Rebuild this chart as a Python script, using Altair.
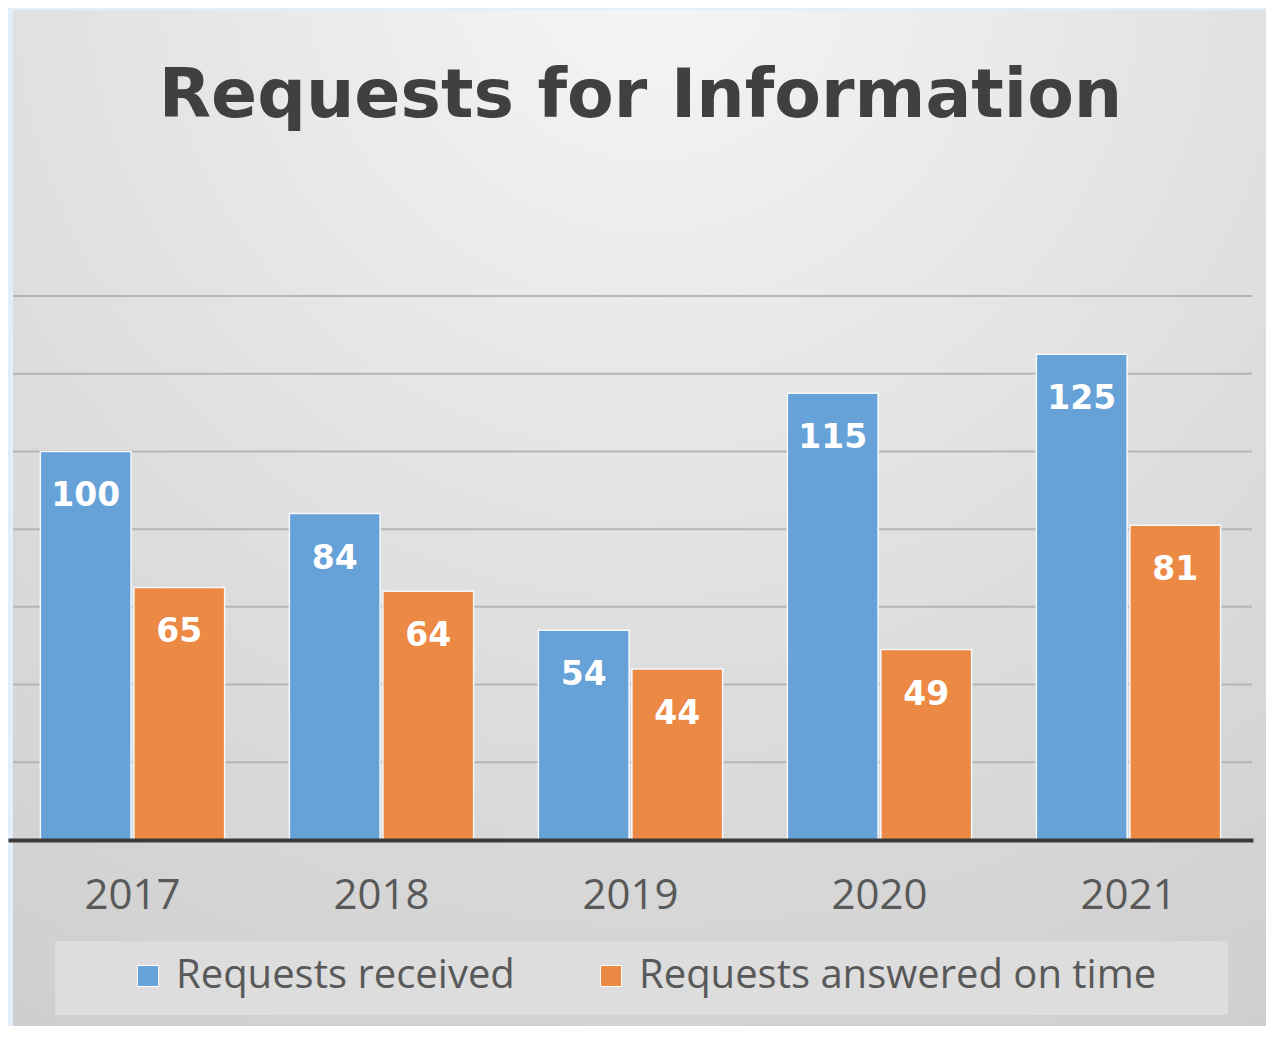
import altair as alt
import pandas as pd

years = ["2017", "2018", "2019", "2020", "2021"]
received = [100, 84, 54, 115, 125]
answered = [65, 64, 44, 49, 81]
series = ["Requests received", "Requests answered on time"]
colors = ["#66a1d8", "#ec8945"]
grid_values = [20, 40, 60, 80, 100, 120, 140]

rows = []
for i, yv in enumerate(years):
    rows.append({"year": yv, "series": series[0], "value": received[i]})
    rows.append({"year": yv, "series": series[1], "value": answered[i]})
df = pd.DataFrame(rows)
grid_df = pd.DataFrame({"g": grid_values})
one = pd.DataFrame({"a": [0]})

W, H = 1245, 544
yscale = alt.Scale(domain=[0, 140], nice=False)

x_enc = alt.X(
    "year:N", sort=years,
    scale=alt.Scale(paddingInner=0.26, paddingOuter=0.13),
    axis=alt.Axis(labelAngle=0, title=None, ticks=False, tickSize=0,
                  labelFontSize=42, labelFont="Open Sans", labelColor="#595959",
                  labelPadding=55, labelBaseline="middle",
                  domainColor="#3a3a3a", domainWidth=4, grid=False, zindex=1),
)
xo_enc = alt.XOffset("series:N", sort=series,
                     scale=alt.Scale(paddingInner=0.03, paddingOuter=0))

panel = alt.Chart(one).mark_rect(
    color=alt.RadialGradient(
        gradient="radial", x1=0.5, y1=0.05, r1=0, x2=0.5, y2=0.05, r2=1.0,
        stops=[alt.GradientStop(offset=0, color="#f6f6f6"),
               alt.GradientStop(offset=0.55, color="#dedede"),
               alt.GradientStop(offset=1, color="#cdcdcd")])
).encode(x=alt.value(5), x2=alt.value(1280), y=alt.value(-286), y2=alt.value(760))

legend_box = alt.Chart(one).mark_rect(color="#dddddd").encode(
    x=alt.value(47), x2=alt.value(1220), y=alt.value(645), y2=alt.value(719))

grid = alt.Chart(grid_df).mark_rule(color="#b5b5b5", strokeWidth=2).encode(
    y=alt.Y("g:Q", scale=yscale, axis=None), x=alt.value(5), x2=alt.value(1244))

bars = alt.Chart(df).mark_bar(stroke="#f4f8fc", strokeWidth=1.5).encode(
    x=x_enc, xOffset=xo_enc,
    y=alt.Y("value:Q", scale=yscale, axis=None),
    color=alt.Color("series:N", sort=series,
                    scale=alt.Scale(domain=series, range=colors),
                    legend=alt.Legend(orient="none", legendX=120, legendY=660,
                                      direction="horizontal", title=None,
                                      symbolType="square", symbolSize=441,
                                      labelFontSize=40, labelFont="Open Sans",
                                      labelColor="#595959", columnPadding=76,
                                      labelOffset=8, labelLimit=0, padding=0,
                                      zindex=1, symbolStrokeColor="white",
                                      symbolStrokeWidth=1)),
)

labels = alt.Chart(df).mark_text(
    dy=45, baseline="middle", font="DejaVu Sans", fontWeight="bold",
    fontSize=33, color="white"
).encode(x=x_enc, xOffset=xo_enc, y=alt.Y("value:Q", scale=yscale, axis=None),
         text="value:Q")

chart = alt.layer(panel, legend_box, grid, bars, labels).properties(
    width=W, height=H,
    title=alt.TitleParams("Requests for Information", fontSize=68, font="DejaVu Sans",
                          fontWeight="bold", color="#404040", anchor="middle",
                          frame="group", offset=0, dy=121, dx=10, zindex=1),
    autosize="none",
    padding={"left": 0, "top": 288, "right": 13, "bottom": 186},
    background="#e2eefa",
).configure_view(strokeWidth=0)

chart.save("out.html", embed_options={"renderer": "svg", "actions": False})
